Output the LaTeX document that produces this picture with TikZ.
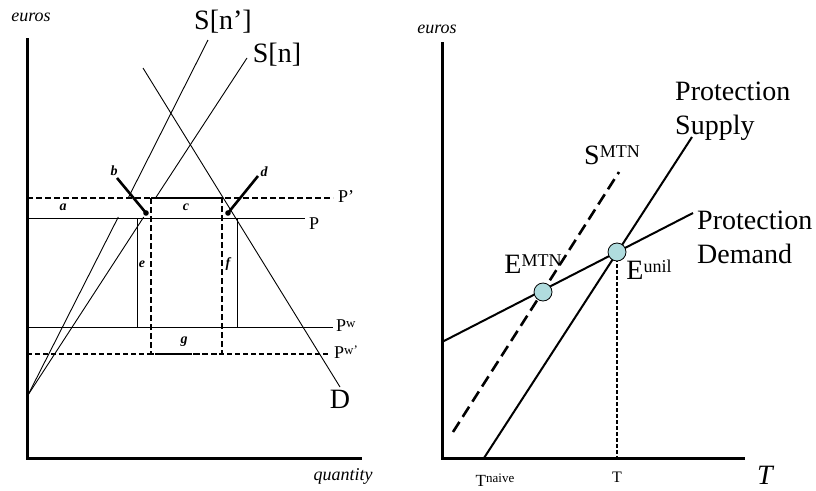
\documentclass[tikz,border=0pt]{standalone}
\usepackage{fontspec}
\setmainfont{Liberation Serif}
\definecolor{eqfill}{RGB}{176,220,222}
\begin{document}
\begin{tikzpicture}[x=1pt,y=-1pt,
  axisline/.style={line width=3pt},
  curve/.style={line width=0.9pt},
  heavy/.style={line width=2pt},
  dashthick/.style={line width=2.4pt, dash pattern=on 6pt off 3pt},
  dashmed/.style={line width=1.7pt, dash pattern=on 5pt off 3pt},
  dashlong/.style={line width=2.6pt, dash pattern=on 12pt off 6pt},
  dashfine/.style={line width=1.1pt, dash pattern=on 4pt off 2pt},
  pointer/.style={line width=2.6pt},
  eqpt/.style={circle, draw, fill=eqfill, minimum size=18pt, inner sep=0pt, line width=0.8pt},
  big/.style={font=\fontsize{28}{34}\selectfont, inner sep=0pt},
  mid/.style={font=\fontsize{18}{20}\selectfont, inner sep=0pt},
  area/.style={font=\bfseries\itshape\fontsize{14}{14}\selectfont, inner sep=0pt},
  axlabel/.style={font=\itshape\fontsize{18}{20}\selectfont, inner sep=0pt},
]
\useasboundingbox (0,0) rectangle (816,490);

% ---------------- left panel ----------------
\coordinate (LYtop) at (27,38);
\coordinate (LO) at (27,458);
\coordinate (LXend) at (362,458);
\draw[axisline] (LYtop) -- (LO) -- (LXend);
\node[axlabel] (leuros) at (31,17) {euros};
\node[axlabel] (quantity) at (343,476) {quantity};

% price lines
\coordinate (Pa) at (27,218);   \coordinate (Pb) at (305,218);
\coordinate (Ppa) at (27,198);  \coordinate (Ppb) at (333,198);
\coordinate (Pwa) at (27,327);  \coordinate (Pwb) at (333,327);
\coordinate (Pwpa) at (27,354); \coordinate (Pwpb) at (328,354);
\draw[curve] (Pa) -- (Pb);
\draw[dashthick] (Ppa) -- (Ppb);
\draw[curve] (Pwa) -- (Pwb);
\draw[dashmed] (Pwpa) -- (Pwpb);

% solid rectangle sides
\coordinate (R1) at (137,218); \coordinate (R2) at (137,327);
\coordinate (R3) at (237,218); \coordinate (R4) at (237,327);
\draw[curve] (R1) -- (R2);
\draw[curve] (R3) -- (R4);
% dashed rectangle
\coordinate (DR1) at (151,198); \coordinate (DR2) at (222,354);
\draw[dashthick] (DR1) rectangle (DR2);

% demand
\coordinate (Dtop) at (143,68); \coordinate (Dbot) at (340,387);
\draw[curve] (Dtop) -- (Dbot);

% supply curves (interrupted in the band between P' and P)
\coordinate (Sorig) at (28,395);
\coordinate (S1lo) at (118.3,217); \coordinate (S1hi) at (127.9,198.5);
\coordinate (S1top) at (208,40);
\coordinate (S2lo) at (143.7,217); \coordinate (S2hi) at (155.2,198.5);
\coordinate (S2top) at (247,58);
\draw[curve] (Sorig) -- (S1lo);
\draw[curve] (S1hi) -- (S1top);
\draw[curve] (Sorig) -- (S2lo);
\draw[curve] (S2hi) -- (S2top);

% pointers
\coordinate (bstart) at (117,178); \coordinate (bdot) at (146,213);
\coordinate (dstart) at (258,176); \coordinate (ddot) at (228,213);
\draw[pointer] (bstart) -- (bdot);
\draw[pointer] (dstart) -- (ddot);
\fill (bdot) circle (2.8pt);
\fill (ddot) circle (2.8pt);

% labels
\node[big] (Snp) at (223,22) {S[n’]};
\node[big] (Sn) at (277,55) {S[n]};
\node[big] (Dl) at (340,399) {D};
\node[mid, anchor=west] (Ppl) at (338,197) {P’};
\node[mid, anchor=west] (Pl) at (309,224) {P};
\node[mid, anchor=west] (Pwl) at (336,326) {P\raisebox{4pt}{\fontsize{13}{13}\selectfont w}};
\node[mid, anchor=west] (Pwpl) at (334,352) {P\raisebox{4pt}{\fontsize{13}{13}\selectfont w’}};
\node[area] (la) at (63,207) {a};
\node[area] (lb) at (114,171) {b};
\node[area] (lc) at (186,207) {c};
\node[area] (ld) at (264,172) {d};
\node[area] (le) at (142,264) {e};
\node[area] (lf) at (228,264) {f};
\node[area] (lg) at (184,342) {g};

% ---------------- right panel ----------------
\coordinate (RYtop) at (442,42);
\coordinate (RO) at (442,458);
\coordinate (RXend) at (745,458);
\draw[axisline] (RYtop) -- (RO) -- (RXend);
\node[axlabel] (reuros) at (437,29) {euros};
\node[font=\itshape\fontsize{28}{28}\selectfont, inner sep=0pt, anchor=base] (Tax) at (765,484) {T};

\coordinate (Eu) at (617,252);
\coordinate (Em) at (543,292);
\coordinate (Sup1) at (484,458); \coordinate (Sup2) at (692,137);
\coordinate (Dem1) at (442,342); \coordinate (Dem2) at (693,213);
\coordinate (Sm1) at (453,432);  \coordinate (Sm2) at (619,172);
\coordinate (Tfoot) at (617,458);
\draw[heavy] (Sup1) -- (Sup2);
\draw[heavy] (Dem1) -- (Dem2);
\draw[dashlong] (Sm1) -- (Sm2);
\draw[dashfine] (Eu) -- (Tfoot);
\node[eqpt] (Eunil) at (Eu) {};
\node[eqpt] (EMTN) at (Em) {};

\node[big, anchor=west, align=left] (PSl) at (675,111) {Protection\\Supply};
\node[big, anchor=west, align=left] (PDl) at (697,237) {Protection\\Demand};
\node[big] (SMl) at (612,155) {S\raisebox{6.5pt}{\fontsize{18}{18}\selectfont MTN}};
\node[big] (EMl) at (533,264) {E\raisebox{6.5pt}{\fontsize{18}{18}\selectfont MTN}};
\node[big] (EUl) at (649,270) {E\raisebox{6.5pt}{\fontsize{18}{18}\selectfont unil}};
\node[font=\fontsize{16}{16}\selectfont, inner sep=0pt] (Tl) at (617,477) {T};
\node[font=\fontsize{17}{17}\selectfont, inner sep=0pt] (Tnl) at (495,480) {T\raisebox{4pt}{\fontsize{13}{13}\selectfont naive}};
\end{tikzpicture}
\end{document}
